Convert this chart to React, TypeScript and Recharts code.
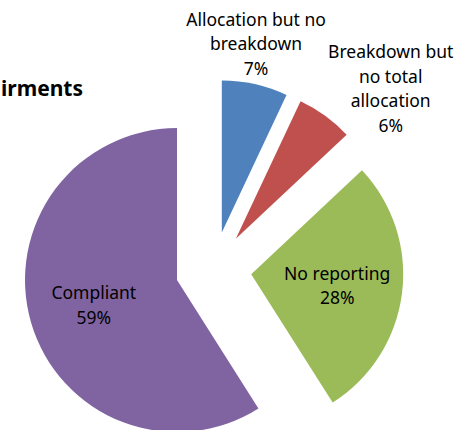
import React from "react";
import { PieChart, Pie, Cell } from "recharts";

// slices, clockwise from 12 o'clock
const categories = [
  "Allocation but no breakdown",
  "Breakdown but no total allocation",
  "No reporting",
  "Compliant",
];
const shares = [7, 6, 28, 59];
const labelLines = [
  ["Allocation but no", "breakdown"],
  ["Breakdown but", "no total", "allocation"],
  ["No reporting"],
  ["Compliant"],
];
const insideLabel = [false, false, true, true];
const colors = ["#4F81BD", "#C0504D", "#9BBB59", "#8064A2"];

const data = categories.map((name, i) => ({ name, value: shares[i] }));

const CX = 213.5;
const CY = 269.5;
const R = 152;
const EXPLODE = 38;
const FONT = "'Noto Sans', sans-serif";
const FS = 17.5;
const LH = 24.5;
const RAD = Math.PI / 180;

const total = shares.reduce((a, b) => a + b, 0);

function sliceMid(i: number) {
  const before = shares.slice(0, i).reduce((a, b) => a + b, 0);
  return 90 - (360 * (before + shares[i] / 2)) / total;
}

function renderLabel(p: any) {
  const { cx, cy, midAngle, index, percent } = p;
  const dx = Math.cos(midAngle * RAD);
  const dy = -Math.sin(midAngle * RAD);
  const lines = [...labelLines[index], `${Math.round(percent * 100)}%`];
  const h = lines.length * LH;
  const w = Math.max(...lines.map((t) => t.length)) * FS * 0.55;
  let x: number;
  let centerY: number;
  if (insideLabel[index]) {
    x = cx + 0.57 * R * dx;
    centerY = cy + 0.57 * R * dy;
  } else {
    const ax = cx + (R + 5) * dx;
    const ay = cy + (R + 5) * dy;
    if (Math.abs(dx) < 0.35) {
      x = ax;
      centerY = ay + (dy * h) / 2;
    } else {
      x = ax + (Math.sign(dx) * w) / 2;
      centerY = ay + (dy * h) / 2 * 0.6;
    }
  }
  const firstY = centerY - h / 2 + LH / 2;
  return (
    <text
      x={x}
      y={firstY}
      textAnchor="middle"
      dominantBaseline="central"
      fontFamily={FONT}
      fontSize={FS}
      fill="#000"
    >
      {lines.map((t, k) => (
        <tspan key={k} x={x} dy={k === 0 ? 0 : LH}>
          {t}
        </tspan>
      ))}
    </text>
  );
}

export default function App() {
  return (
    <div style={{ position: "absolute", left: 0, top: 0 }}>
      <PieChart
        width={469}
        height={430}
        margin={{ top: 0, right: 0, bottom: 0, left: 0 }}
      >
        <text
          x={83}
          y={96}
          textAnchor="end"
          fontFamily={FONT}
          fontSize={21}
          fontWeight="bold"
          fill="#000"
        >
          irments
        </text>
        {data.map((_, i) => {
          const m = sliceMid(i);
          return (
            <Pie
              key={i}
              data={data}
              dataKey="value"
              nameKey="name"
              cx={CX + EXPLODE * Math.cos(m * RAD)}
              cy={CY - EXPLODE * Math.sin(m * RAD)}
              outerRadius={R}
              startAngle={90}
              endAngle={-270}
              stroke="none"
              labelLine={false}
              label={(p: any) => (p.index === i ? renderLabel(p) : null)}
              isAnimationActive={false}
            >
              {data.map((__, j) => (
                <Cell key={j} fill={j === i ? colors[j] : "none"} />
              ))}
            </Pie>
          );
        })}
      </PieChart>
    </div>
  );
}
